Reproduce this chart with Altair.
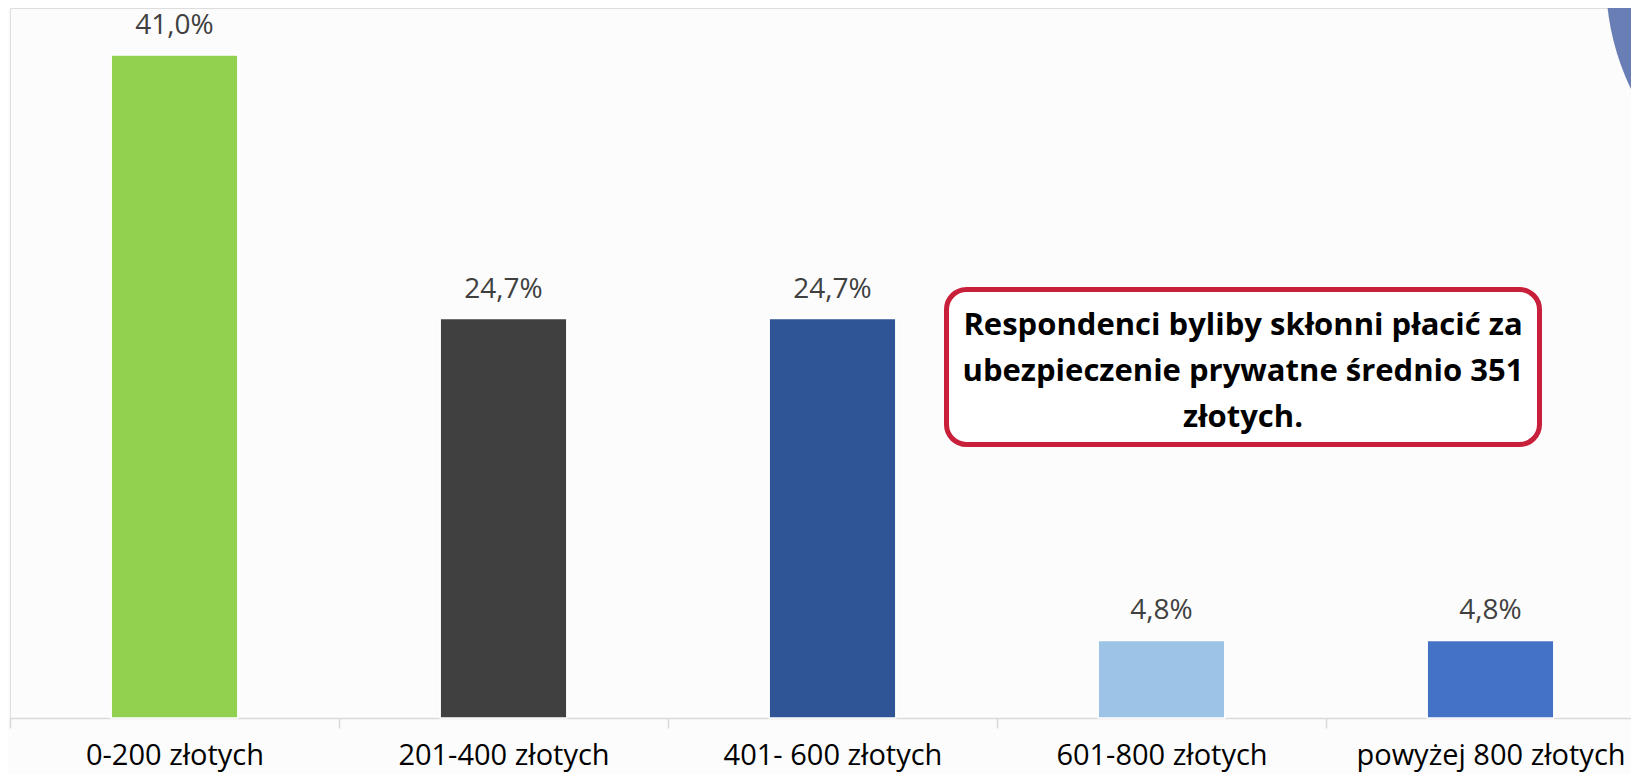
import altair as alt
import pandas as pd

categories = ["0-200 złotych", "201-400 złotych", "401- 600 złotych", "601-800 złotych", "powyżej 800 złotych"]
values = [41.0, 24.7, 24.7, 4.8, 4.8]
colors = ["#92D050", "#404040", "#2F5597", "#9DC3E6", "#4472C4"]
note_lines = ["Respondenci byliby skłonni płacić za", "ubezpieczenie prywatne średnio 351", "złotych."]

df = pd.DataFrame({"cat": categories, "val": values, "col": colors})
one = pd.DataFrame({"k": [0]})

W = 1621
H = 710
PX_PER_PCT = 16.17

x_enc = alt.X(
    "cat:N",
    sort=categories,
    scale=alt.Scale(range=[0, 1645], paddingInner=0, paddingOuter=0),
    axis=alt.Axis(
        title=None, labelAngle=0, tickBand="extent",
        domainColor="#D9D9D9", tickColor="#D9D9D9", domainWidth=1.5, tickWidth=1.5,
        tickSize=10, labelFont="Open Sans", labelFontSize=29, labelColor="#000000",
        labelPadding=13, labelBaseline="top", labelLimit=0, labelOverlap=False, grid=False,
    ),
)
y_enc = alt.Y("val:Q", scale=alt.Scale(domain=[0, H / PX_PER_PCT]), axis=None)

base = alt.Chart(df)

bars = base.mark_bar(width=alt.RelativeBandSize(0.385), stroke="white", strokeWidth=1.5).encode(
    x=x_enc, y=y_enc, color=alt.Color("col:N", scale=None)
)

labels = base.transform_calculate(
    lab="replace(format(datum.val, '.1f'), '.', ',') + '%'"
).mark_text(dy=-21, baseline="alphabetic", font="Open Sans", fontSize=28, color="#404040").encode(
    x=x_enc, y=y_enc, text="lab:N"
)

circle = alt.Chart(one).mark_arc(
    radius=250, theta=0, theta2=6.2832, color="#6A7EB6", opacity=1
).encode(x=alt.value(1846), y=alt.value(-28))

box = alt.Chart(one).mark_rect(fill="white", stroke="#C8203B", strokeWidth=5, cornerRadius=20).encode(
    x=alt.value(936.5), x2=alt.value(1529.5), y=alt.value(281.5), y2=alt.value(436.5)
)

note = alt.Chart(one).mark_text(
    text=note_lines, align="center", baseline="alphabetic", font="Open Sans",
    fontWeight="bold", fontSize=31, lineHeight=46, color="#000000"
).encode(x=alt.value(1233), y=alt.value(327))

chart = alt.layer(circle, bars, labels, box, note).properties(
    width=W, height=H,
    autosize=alt.AutoSizeParams(type="none"),
    padding={"left": 2, "top": 0, "right": 0, "bottom": 56},
).configure_view(stroke=None).configure(background="#FCFCFC")

chart.save("out.html", embed_options={"renderer": "svg", "actions": False})
